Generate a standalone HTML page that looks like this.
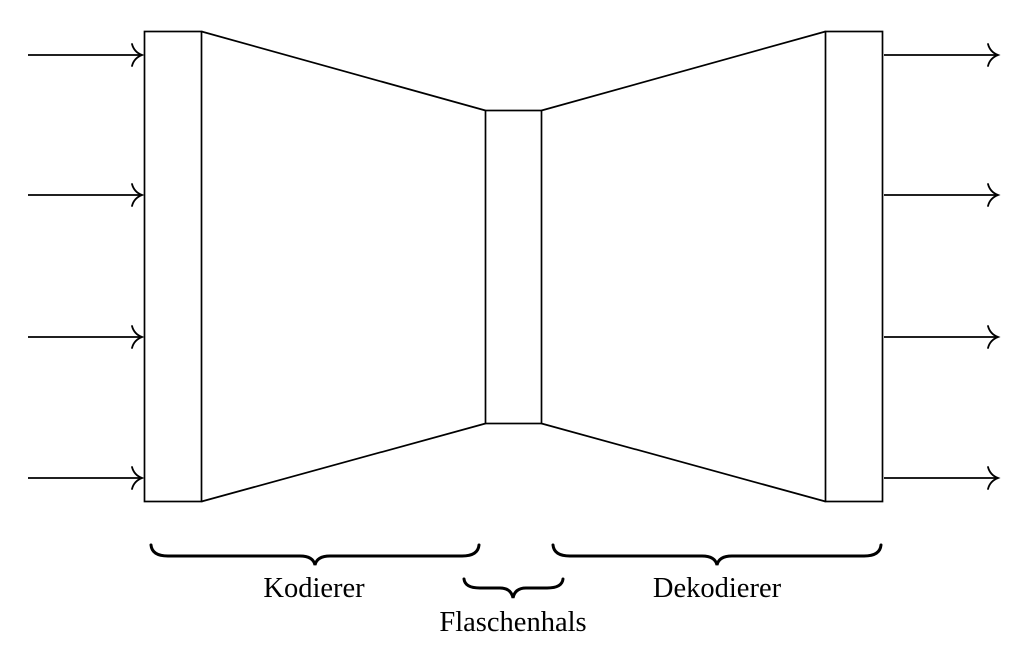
<!DOCTYPE html>
<html><head><meta charset="utf-8"><style>html,body{margin:0;padding:0;background:#fff}svg{display:block}</style></head>
<body>
<svg width="1032" height="646" viewBox="0 0 1032 646" xmlns="http://www.w3.org/2000/svg">
<g fill="none" stroke="#000" stroke-width="1.7">
<rect x="144.5" y="31.5" width="57" height="470"/>
<rect x="485.5" y="110.5" width="56" height="313"/>
<rect x="825.5" y="31.5" width="57" height="470"/>
<line x1="201.5" y1="31.5" x2="485.5" y2="110.5"/>
<line x1="201.5" y1="501.5" x2="485.5" y2="423.5"/>
<line x1="541.5" y1="110.5" x2="825.5" y2="31.5"/>
<line x1="541.5" y1="423.5" x2="825.5" y2="501.5"/>
<line x1="28" y1="55" x2="141" y2="55"/>
<line x1="28" y1="195" x2="141" y2="195"/>
<line x1="28" y1="337" x2="141" y2="337"/>
<line x1="28" y1="478" x2="141" y2="478"/>
<line x1="884" y1="55" x2="997" y2="55"/>
<line x1="884" y1="195" x2="997" y2="195"/>
<line x1="884" y1="337" x2="997" y2="337"/>
<line x1="884" y1="478" x2="997" y2="478"/>
<g stroke-width="1.8" stroke-linecap="round">
<path d="M132,44 Q134,52 142,55 Q134,58 132,66"/>
<path d="M132,184 Q134,192 142,195 Q134,198 132,206"/>
<path d="M132,326 Q134,334 142,337 Q134,340 132,348"/>
<path d="M132,467 Q134,475 142,478 Q134,481 132,489"/>
<path d="M988,44 Q990,52 998,55 Q990,58 988,66"/>
<path d="M988,184 Q990,192 998,195 Q990,198 988,206"/>
<path d="M988,326 Q990,334 998,337 Q990,340 988,348"/>
<path d="M988,467 Q990,475 998,478 Q990,481 988,489"/>
</g>
</g>
<g fill="none" stroke="#000" stroke-width="3" stroke-linecap="round">
<path d="M151,545 Q152,556 168,556 L300,556 Q313,556 315,565 Q317,556 330,556 L462,556 Q478,556 479,545"/>
<path d="M464,579 Q465,588 480,588 L500,588 Q511,588 513,598 Q515,588 526,588 L547,588 Q562,588 563,579"/>
<path d="M553,545 Q554,556 570,556 L702,556 Q715,556 717,565 Q719,556 732,556 L864,556 Q880,556 881,545"/>
</g>
<g font-family="Liberation Serif, serif" font-size="28.5" text-anchor="middle" fill="#000">
<text x="314" y="597">Kodierer</text>
<text x="513" y="631">Flaschenhals</text>
<text x="717" y="597">Dekodierer</text>
</g>
</svg>
</body></html>
